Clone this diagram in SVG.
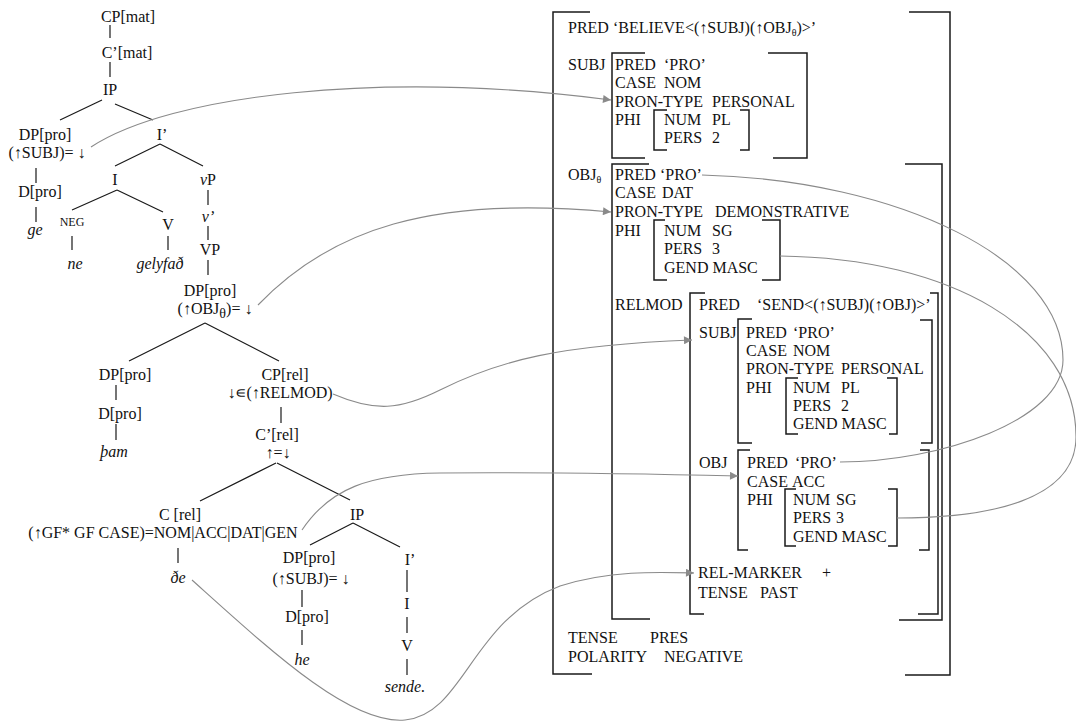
<svg xmlns="http://www.w3.org/2000/svg" width="1076" height="722" viewBox="0 0 1076 722">
<style>
text{font-family:"Liberation Serif","Times New Roman",serif;font-size:16px;fill:#111}
.t text{text-anchor:middle}
.it{font-style:italic}
.sm{font-size:12px}
.edge{stroke:#1a1a1a;stroke-width:1.2;fill:none}
.br{stroke:#1a1a1a;stroke-width:1.5;fill:none}
.con{stroke:#8a8a8a;stroke-width:1.1;fill:none}
.arr{marker-end:url(#ah)}
</style>
<defs>
<marker id="ah" viewBox="0 0 10 10" refX="10" refY="5" markerWidth="9" markerHeight="8" markerUnits="userSpaceOnUse" orient="auto">
<path d="M0,0 L10,5 L0,10 Z" fill="#8a8a8a"/>
</marker>
</defs>
<rect width="1076" height="722" fill="#fff"/>

<!-- tree edges -->
<g id="tree-edges" class="edge">
<path d="M110,25V38M110,62V77"/>
<path d="M102,100L60,120M115,104L153,120"/>
<path d="M36,168V183M36,207V222"/>
<path d="M160,144L115,166M160,144L203,166"/>
<path d="M117,190L72,210M117,190L163,212"/>
<path d="M72,236V250M168,236V250"/>
<path d="M208,190V205M208,226V240M208,260V275"/>
<path d="M205,323L129,361M205,323L279,361"/>
<path d="M116,385V400M116,424V440"/>
<path d="M281,407V423"/>
<path d="M276,463L200,501M277,463L350,500"/>
<path d="M178,548V563"/>
<path d="M353,523L310,545M353,523L400,547"/>
<path d="M302,590V607M302,630V645"/>
<path d="M407,570V592M407,617V633M407,659V675"/>
</g>

<!-- tree nodes -->
<g class="t">
<g id="cp-mat"><text x="128" y="22">CP[mat]</text></g>
<g id="cbar-mat"><text x="127" y="58">C’[mat]</text></g>
<g id="ip-mat"><text x="110" y="95">IP</text></g>
<g id="dp-subj"><text x="45" y="140">DP[pro]</text><text x="47" y="158">(↑SUBJ)= ↓</text></g>
<g id="d-subj"><text x="40" y="197">D[pro]</text></g>
<g id="ge"><text class="it" x="35" y="235">ge</text></g>
<g id="ibar-mat"><text x="162" y="140">I’</text></g>
<g id="i-mat"><text x="115" y="185">I</text></g>
<g id="vp-small"><text x="208" y="185"><tspan class="it">v</tspan>P</text></g>
<g id="neg"><text class="sm" x="72" y="226">NEG</text></g>
<g id="v-mat"><text x="168" y="230">V</text></g>
<g id="ne"><text class="it" x="75" y="269">ne</text></g>
<g id="gelyfad"><text class="it" x="160" y="269">gelyfað</text></g>
<g id="vbar"><text class="it" x="208" y="222">v’</text></g>
<g id="vp"><text x="210" y="255">VP</text></g>
<g id="dp-obj"><text x="210" y="296">DP[pro]</text><text x="215" y="314">(↑OBJ<tspan font-size="14" baseline-shift="-4">θ</tspan><tspan>)= ↓</tspan></text></g>
<g id="dp-pam"><text x="125" y="380">DP[pro]</text></g>
<g id="d-pam"><text x="120" y="419">D[pro]</text></g>
<g id="pam"><text class="it" x="114" y="457">þam</text></g>
<g id="cp-rel"><text x="285" y="380">CP[rel]</text><text x="280" y="398">↓∊(↑RELMOD)</text></g>
<g id="cbar-rel"><text x="277" y="440">C’[rel]</text><text x="278" y="458">↑=↓</text></g>
<g id="c-rel"><text x="180" y="520">C [rel]</text><text x="163" y="538">(↑GF* GF CASE)=NOM|ACC|DAT|GEN</text></g>
<g id="de"><text class="it" x="178" y="583">ðe</text></g>
<g id="ip-rel"><text x="357" y="520">IP</text></g>
<g id="dp-he"><text x="309" y="563">DP[pro]</text><text x="311" y="584">(↑SUBJ)= ↓</text></g>
<g id="d-he"><text x="307" y="622">D[pro]</text></g>
<g id="he"><text class="it" x="302" y="665">he</text></g>
<g id="ibar-rel"><text x="410" y="565">I’</text></g>
<g id="i-rel"><text x="407" y="609">I</text></g>
<g id="v-rel"><text x="407" y="651">V</text></g>
<g id="sende"><text class="it" x="405" y="692">sende.</text></g>
</g>

<!-- f-structure -->
<g id="f-main">
<path class="br" d="M590,12H553V674H592M909,12H950V675H905"/>
<text x="568" y="33">PRED ‘BELIEVE&lt;(↑SUBJ)(↑OBJ<tspan font-size="10" baseline-shift="-3">θ</tspan><tspan>)&gt;’</tspan></text>
<text x="568" y="643">TENSE</text><text x="650" y="643">PRES</text>
<text x="568" y="662">POLARITY</text><text x="664" y="662">NEGATIVE</text>
</g>
<g id="f-subj">
<path class="br" d="M645,53H612V158H645M768,53H807V158H773"/>
<path class="br" d="M667,110H654V150H667M740,110H749V150H740"/>
<text x="568" y="70">SUBJ</text>
<text x="615" y="70">PRED</text><text x="664" y="70">‘PRO’</text>
<text x="615" y="88">CASE</text><text x="664" y="88">NOM</text>
<text x="615" y="107">PRON-TYPE</text><text x="712" y="107">PERSONAL</text>
<text x="615" y="125">PHI</text><text x="664" y="125">NUM</text><text x="712" y="125">PL</text>
<text x="664" y="143">PERS</text><text x="712" y="143">2</text>
</g>
<g id="f-objtheta">
<path class="br" d="M649,164H612V619H650M905,164H942V620H899"/>
<path class="br" d="M665,220H654V280H667M762,220H780V280H762"/>
<text x="568" y="180">OBJ<tspan font-size="10" baseline-shift="-3">θ</tspan></text>
<text x="615" y="180">PRED</text><text x="660" y="180">‘PRO’</text>
<text x="615" y="198">CASE</text><text x="662" y="198">DAT</text>
<text x="615" y="217">PRON-TYPE</text><text x="715" y="217">DEMONSTRATIVE</text>
<text x="615" y="236">PHI</text><text x="664" y="236">NUM</text><text x="712" y="236">SG</text>
<text x="664" y="254">PERS</text><text x="712" y="254">3</text>
<text x="664" y="273">GEND MASC</text>
<text x="615" y="310">RELMOD</text>
</g>
<g id="f-relmod">
<path class="br" d="M705,293H690V614H704M930,293H938V614H918"/>
<text x="699" y="310">PRED</text><text x="757" y="310">‘SEND&lt;(↑SUBJ)(↑OBJ)&gt;’</text>
<text x="699" y="338">SUBJ</text>
<text x="699" y="468">OBJ</text>
<text x="698" y="578">REL-MARKER</text><text x="822" y="578">+</text>
<text x="698" y="598">TENSE</text><text x="760" y="598">PAST</text>
</g>
<g id="f-rel-subj">
<path class="br" d="M752,319H738V443H752M920,320H932V443H921"/>
<path class="br" d="M798,378H786V434H798M887,378H897V434H889"/>
<text x="746" y="338">PRED</text><text x="793" y="338">‘PRO’</text>
<text x="746" y="356">CASE</text><text x="793" y="356">NOM</text>
<text x="746" y="374">PRON-TYPE</text><text x="841" y="374">PERSONAL</text>
<text x="746" y="393">PHI</text><text x="793" y="393">NUM</text><text x="841" y="393">PL</text>
<text x="793" y="411">PERS</text><text x="841" y="411">2</text>
<text x="793" y="429">GEND MASC</text>
</g>
<g id="f-rel-obj">
<path class="br" d="M750,450H738V550H748M920,450H929V550H919"/>
<path class="br" d="M796,489H785V546H796M888,489H897V546H888"/>
<text x="747" y="468">PRED</text><text x="795" y="468">‘PRO’</text>
<text x="747" y="487">CASE</text><text x="792" y="487">ACC</text>
<text x="747" y="505">PHI</text><text x="793" y="505">NUM</text><text x="836" y="505">SG</text>
<text x="793" y="523">PERS</text><text x="836" y="523">3</text>
<text x="793" y="542">GEND MASC</text>
</g>

<!-- connectors -->
<g id="connectors" class="con">
<path class="arr" d="M91,147C170,95 380,70 611,100"/>
<path class="arr" d="M258,305C330,230 430,195 611,212"/>
<path class="arr" d="M333,394C375,412 400,410 440,390C500,360 560,345 692,340"/>
<path class="arr" d="M302,530C330,488 370,474 440,473C560,472 650,474 738,476"/>
<path class="arr" d="M192,580C270,650 350,725 405,720C465,714 470,620 560,586C610,570 660,572 694,573"/>
<path d="M702,175C900,180 1063,260 1063,360C1063,420 940,462 840,462"/>
<path d="M780,256C950,258 1076,330 1076,437C1076,500 990,518 897,518"/>
</g>
</svg>
